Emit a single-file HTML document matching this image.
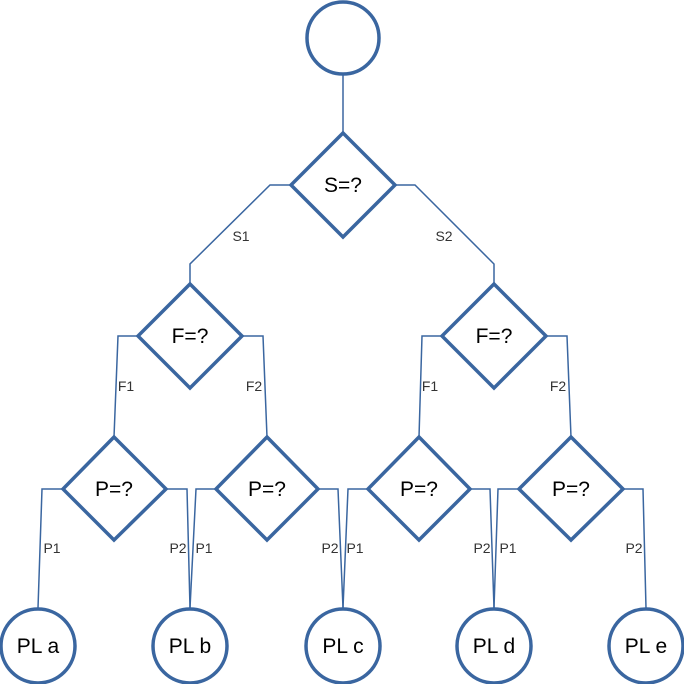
<!DOCTYPE html>
<html><head><style>body{margin:0;background:#fff}svg{display:block}</style></head><body>
<svg width="684" height="684" viewBox="0 0 684 684" xmlns="http://www.w3.org/2000/svg">
<g fill="none" stroke="#3A66A0" stroke-width="1.5">
<polyline points="343,75 343,133"/>
<polyline points="291,185 270,185 190,264 190,284"/>
<polyline points="395,185 415,185 494,264 494,284"/>
<polyline points="138,336 118,336 114,437"/>
<polyline points="242,336 263,336 267,437"/>
<polyline points="442,336 422,336 419,437"/>
<polyline points="546,336 567,336 571,437"/>
<polyline points="63,489 42,489 38,608"/>
<polyline points="166,489 187,489 190,608"/>
<polyline points="216,489 196,489 190,608"/>
<polyline points="318,489 338,489 343,608"/>
<polyline points="368,489 348,489 343,608"/>
<polyline points="470,489 490,489 494,608"/>
<polyline points="519,489 498,489 494,608"/>
<polyline points="623,489 643,489 646,608"/>
</g>
<g fill="#fff" stroke="#3A66A0" stroke-width="3.5">
<circle cx="343" cy="38" r="36"/>
<polygon points="343,133 395,185 343,237 291,185"/>
<polygon points="190,284 242,336 190,388 138,336"/>
<polygon points="494,284 546,336 494,388 442,336"/>
<polygon points="114,437 166,489 114,540 63,489"/>
<polygon points="267,437 318,489 267,540 216,489"/>
<polygon points="419,437 470,489 419,540 368,489"/>
<polygon points="571,437 623,489 571,540 519,489"/>
<circle cx="38" cy="646" r="37"/>
<circle cx="190" cy="646" r="37"/>
<circle cx="343" cy="646" r="37"/>
<circle cx="494" cy="646" r="37"/>
<circle cx="646" cy="646" r="37"/>
</g>
<g font-family="Liberation Sans, sans-serif" font-size="21" fill="#000" text-anchor="middle">
<text x="343" y="192">S=?</text>
<text x="190" y="343">F=?</text>
<text x="494" y="343">F=?</text>
<text x="114" y="496">P=?</text>
<text x="267" y="496">P=?</text>
<text x="419" y="496">P=?</text>
<text x="571" y="496">P=?</text>
<text x="38" y="653">PL a</text>
<text x="190" y="653">PL b</text>
<text x="343" y="653">PL c</text>
<text x="494" y="653">PL d</text>
<text x="646" y="653">PL e</text>
</g>
<g font-family="Liberation Sans, sans-serif" font-size="14" fill="#333" text-anchor="middle">
<text x="241" y="241">S1</text>
<text x="444" y="241">S2</text>
<text x="126" y="391">F1</text>
<text x="254" y="391">F2</text>
<text x="430" y="391">F1</text>
<text x="558" y="391">F2</text>
<text x="52" y="553">P1</text>
<text x="178" y="553">P2</text>
<text x="204" y="553">P1</text>
<text x="330" y="553">P2</text>
<text x="355" y="553">P1</text>
<text x="482" y="553">P2</text>
<text x="508" y="553">P1</text>
<text x="634" y="553">P2</text>
</g>
</svg>
</body></html>
